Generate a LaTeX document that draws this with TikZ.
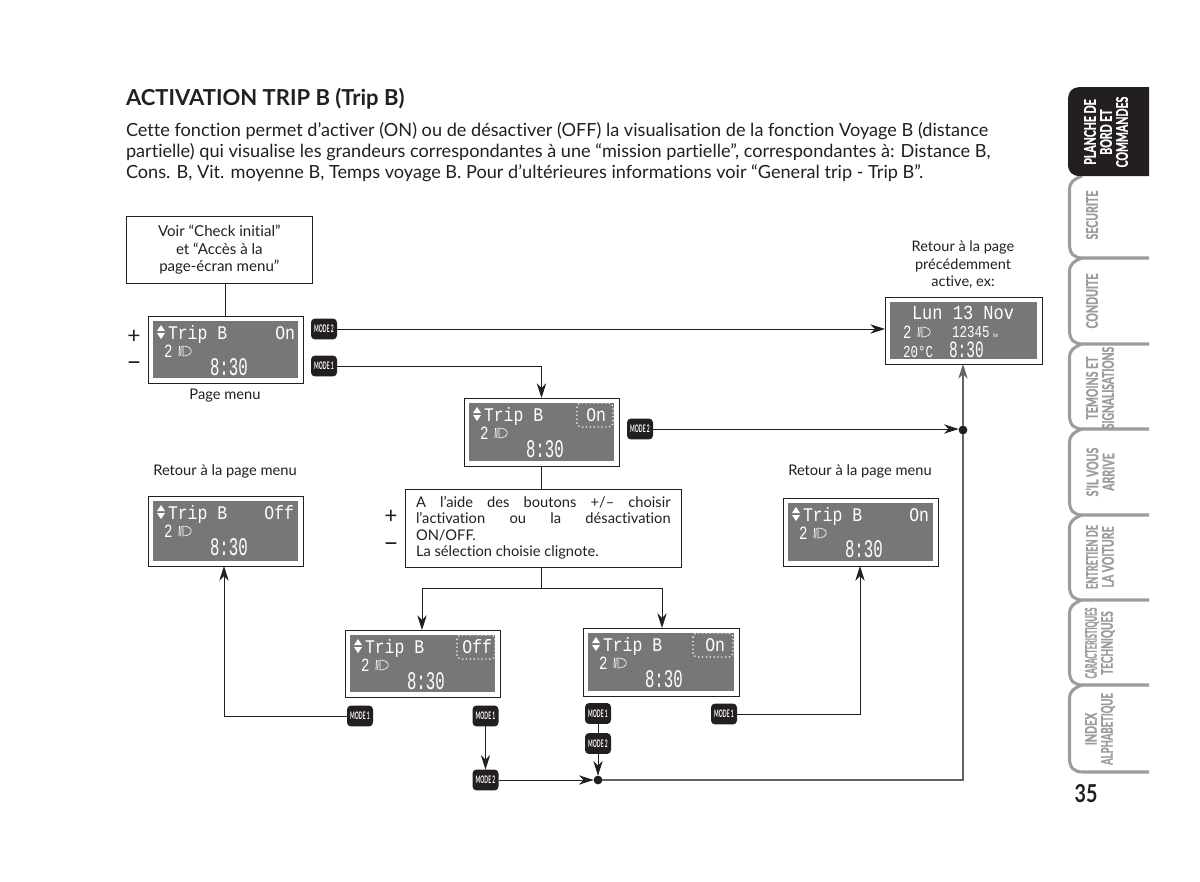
\documentclass[tikz,border=0pt]{standalone}
\usepackage{fontspec}
\usetikzlibrary{arrows.meta,calc}
\setmainfont{Lato}[Ligatures=NoCommon]
\newfontfamily\lcdfont[FakeStretch=0.85]{Liberation Mono}
\newfontfamily\lcdmid[FakeStretch=0.75]{Liberation Mono}
\newfontfamily\lcdnarrow[FakeStretch=0.62]{Liberation Mono}
\newfontfamily\tabfont[FakeStretch=0.66,BoldFeatures={FakeBold=1.2},Ligatures=NoCommon]{Lato}
\newfontfamily\modefont[FakeStretch=0.48]{Lato}
\newcommand\fs[1]{\fontsize{#1}{#1}\selectfont}
\definecolor{lcdgray}{HTML}{777777}
\definecolor{tabgray}{HTML}{9A9C9E}
\definecolor{ink}{HTML}{231F20}
\tikzset{
  x=0.75pt,y=-0.75pt,
  every node/.style={inner sep=0pt,outer sep=0pt,text=ink},
  conn/.style={draw=ink,line width=0.65pt},
  arr/.style={conn,-{Stealth[length=11pt,width=7pt,inset=3.5pt]}},
  graylink/.style={draw=ink!70,line width=0.8pt},
  txt/.style={font=\fs{11},align=center},
  para/.style={font=\fs{13.59},anchor=base west},
  box/.style={draw=ink,line width=0.6pt,fill=white},
  modebtn/.style={fill=ink,rounded corners=3pt,minimum width=19.5pt,minimum height=15.7pt,text=white,font=\modefont\bfseries\fs{7.8}},
  dotn/.style={circle,fill=ink,minimum size=6.6pt},
  lcdtxt/.style={text=white},
  tabline/.style={draw=tabgray,line width=2.3pt},
  tabtxt/.style={rotate=90,text=tabgray,font=\tabfont\bfseries\fs{12},align=center},
}
\newcommand\lcdbase[5]{%
  \node[draw=ink,line width=0.65pt,fill=white,minimum width=#4*0.75pt,minimum height=#5*0.75pt,anchor=north west] (#1) at (#2,#3) {};
  \fill[lcdgray] (#2+5,#3+5) rectangle (#2+#4-5,#3+#5-5);
}
\newcommand\lamp[2]{%
  \draw[white,line width=0.45pt] (#1+4,#2-5) .. controls (#1+15,#2-5) and (#1+15,#2+5) .. (#1+4,#2+5) -- cycle;
  \draw[white,line width=0.55pt] (#1+0.5,#2-5) -- (#1,#2+5) (#1+2.2,#2-5) -- (#1+1.7,#2+5);
}
% name, x, y, w, h, status text, status right edge (relative), highlight
\newcommand\lcd[8]{%
  \lcdbase{#1}{#2}{#3}{#4}{#5}
  \fill[white] (#2+9,#3+15) -- (#2+13,#3+9) -- (#2+17,#3+15) -- cycle;
  \fill[white] (#2+9,#3+17) -- (#2+13,#3+23) -- (#2+17,#3+17) -- cycle;
  \node[lcdtxt,anchor=base west,font=\lcdfont\fs{14.5}] (#1t) at (#2+20,#3+23) {Trip B};
  \node[lcdtxt,anchor=base east,font=\lcdfont\fs{14.5}] (#1s) at (#2+#7,#3+23) {#6};
  \node[lcdtxt,anchor=base west,font=\lcdmid\fs{14}] (#1n) at (#2+16,#3+41) {2};
  \lamp{#2+31}{#3+35}
  \node[lcdtxt,anchor=base west,font=\lcdnarrow\fs{19}] (#1c) at (#2+62,#3+59.5) {8:30};
  #8
}
\newcommand\hl[4]{\draw[white,line width=0.9pt,dotted,rounded corners=3pt] (#1,#2) rectangle (#3,#4);}
\newcommand\tab[2]{%
  \draw[tabline] (1149,#2) -- (1083,#2) .. controls (1074,#2) and (1069.5,#2-4) .. (1069.5,#2-14) -- (1069.5,#1+14) .. controls (1069.5,#1+6) and (1074,#1+3) .. (1082,#1);
}
\begin{document}
\begin{tikzpicture}
\useasboundingbox (0,0) rectangle (1200,882);
\fill[white] (0,0) rectangle (1200,882);

\node[anchor=base west,font=\bfseries\fs{16.5}] (title) at (126,105) {ACTIVATION TRIP B (Trip B)};
\node[para] (p1) at (126,136) {Cette fonction permet d’activer (ON) ou de désactiver (OFF) la visualisation de la fonction Voyage B (distance};
\node[para] (p2) at (126,157.5) {partielle) qui visualise les grandeurs correspondantes à une “mission partielle”, correspondantes à: Distance B,};
\node[para] (p3) at (126,178.5) {Cons. B, Vit. moyenne B, Temps voyage B. Pour d’ultérieures informations voir “General trip - Trip B”.};

\node[box,minimum width=140pt,minimum height=50.5pt,anchor=north west,txt,font=\fs{11.3}] (start) at (126,216)
  {Voir “Check initial”\\[2pt] et “Accès à la\\[2pt] page-écran menu”};

\lcd{d1}{148}{316}{155}{67}{On}{147}{}
\lcd{d2}{464}{398}{155}{68}{On}{142}{\hl{577}{403}{613}{427}}
\lcd{d3}{148}{496}{155}{70}{Off}{146}{}
\lcd{d4}{783}{498}{155}{68}{On}{146}{}
\lcd{d5}{345}{630}{155}{67}{Off}{147}{\hl{457}{635}{495}{659}}
\lcd{d6}{583}{628}{156}{68}{On}{142}{\hl{693}{633}{733}{657}}

\lcdbase{status}{885}{297}{157}{67}
\node[lcdtxt,font=\lcdfont\fs{15}] (s1) at (963,313) {Lun 13 Nov};
\node[lcdtxt,anchor=base west,font=\lcdmid\fs{14}] (s2) at (903,338) {2};
\lamp{918}{332}
\node[lcdtxt,anchor=base west,font=\lcdmid\fs{12.5}] (s3) at (952,337) {12345};
\node[lcdtxt,anchor=base west,font=\lcdmid\fs{4.5}] (s4) at (993,337) {km};
\node[lcdtxt,anchor=base west,font=\lcdmid\fs{12.5}] (s5) at (903,357) {20°C};
\node[lcdtxt,anchor=base west,font=\lcdnarrow\fs{17.5}] (s6) at (949,357) {8:30};

\node[txt,font=\fs{17}] (plus1) at (134,337) {+};
\node[txt,font=\fs{20}] (minus1) at (134,366) {–};
\node[txt,font=\fs{17}] (plus2) at (391,517) {+};
\node[txt,font=\fs{20}] (minus2) at (391,547) {–};
\node[txt] (pm) at (225,395.5) {Page menu};
\node[txt] (r1) at (225,471) {Retour à la page menu};
\node[txt] (r2) at (860,471) {Retour à la page menu};
\node[txt,font=\fs{10.9}] (r3) at (963,265) {Retour à la page\\[2.2pt] précédemment\\[2.2pt] active, ex:};

\node[box,minimum width=207pt,minimum height=58.5pt,anchor=north west] (instr) at (405,489) {};
\node[anchor=north west,font=\fs{11},align=left] (instrt) at (416,496) {%
  \hbox to 191pt{A\hfill l’aide\hfill des\hfill boutons\hfill +/–\hfill choisir}\\[1.4pt]
  \hbox to 191pt{l’activation\hfill ou\hfill la\hfill désactivation}\\[1.4pt]
  ON/OFF.\\[1.4pt]
  La sélection choisie clignote.};

\node[modebtn] (a2) at (324,329) {MODE 2};
\node[modebtn] (a1) at (324,366) {MODE 1};
\node[modebtn] (b2) at (640,429) {MODE 2};
\node[modebtn] (c1) at (360,716) {MODE 1};
\node[modebtn] (e1) at (485.5,716) {MODE 1};
\node[modebtn] (e2) at (485.5,780) {MODE 2};
\node[modebtn] (f1) at (598,713.5) {MODE 1};
\node[modebtn] (f2) at (598,743.5) {MODE 2};
\node[modebtn] (g1) at (724,714) {MODE 1};

\node[dotn] (j1) at (963,430) {};
\node[dotn] (j2) at (598,780) {};
\coordinate (split) at (541,588);

\draw[conn] (start.south -| d1.north) -- (d1.north);
\draw[arr] (a2) -- (a2 -| status.west);
\draw[arr] (a1) -| (d2.north);
\draw[arr] (b2.east) -- (j1.west |- b2.east);
\draw[conn] (d2.south) -- (d2.south |- instr.north);
\draw[conn] (instr.south -| split) -- (split);
\draw[arr] (split) -| (d5.north -| 422,0);
\draw[arr] (split) -| (d6.north -| 662,0);
\draw[arr] (c1) -| (d3.south -| 224,0);
\draw[arr] (g1) -| (d4.south -| 860,0);
\draw[arr] (e1) -- (e2);
\draw[conn] (f1) -- (f2);
\draw[arr] (f2) -- (j2);
\draw[arr] (e2) -- (j2);
\draw[graylink] (j2) -| (j1);
\draw[graylink,-{Stealth[length=11pt,width=7pt,inset=3.5pt]}] (j1) -- (j1 |- status.south);

\tab{258}{344}
\tab{176}{258}
\tab{344}{429}
\tab{429}{515}
\tab{515}{600}
\tab{600}{685}
\tab{685}{772}
\fill[ink] (1149,87) -- (1082,87) .. controls (1072,87) and (1068,91) .. (1068,101) -- (1068,164) .. controls (1068,172) and (1072,176) .. (1080,176) -- (1149,176) -- cycle;
\node[tabtxt,text=white] (t1) at (1106,132) {\fontsize{12}{11}\selectfont PLANCHE DE\\BORD ET\\COMMANDES};
\node[tabtxt] (t2) at (1092,215) {SECURITE};
\node[tabtxt] (t3) at (1092,301) {CONDUITE};
\node[tabtxt] (t4) at (1100,388) {\fontsize{12}{11}\selectfont TEMOINS ET\\\scalebox{0.97}[1]{SIGNALISATIONS}};
\node[tabtxt] (t5) at (1100,472) {\fontsize{12}{11}\selectfont S’IL VOUS\\ARRIVE};
\node[tabtxt] (t6) at (1100,557) {\fontsize{12}{11}\selectfont \scalebox{0.87}[1]{ENTRETIEN DE}\\LA VOITURE};
\node[tabtxt] (t7) at (1100,643) {\fontsize{12}{11}\selectfont \scalebox{0.7}[1]{CARACTERISTIQUES}\\\scalebox{0.95}[1]{TECHNIQUES}};
\node[tabtxt] (t8) at (1100,729) {\fontsize{12}{11}\selectfont INDEX\\\scalebox{0.9}[1]{ALPHABETIQUE}};
\node[font=\bfseries\fs{18.5}] (pg) at (1086,794) {\scalebox{0.8}[1]{35}};
\end{tikzpicture}
\end{document}
